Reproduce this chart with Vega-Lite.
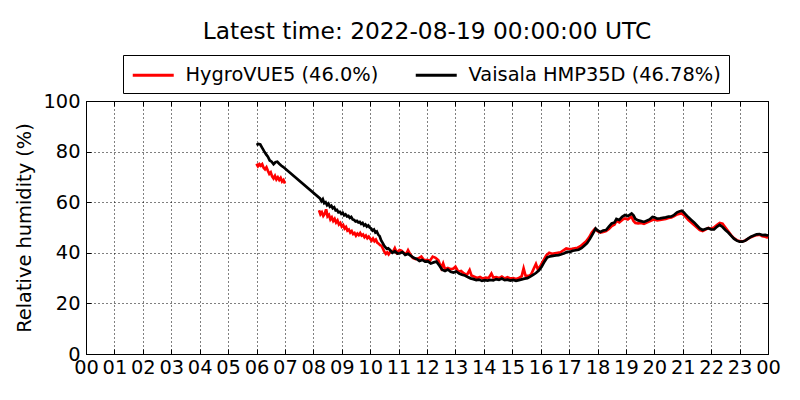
{
  "$schema": "https://vega.github.io/schema/vega-lite/v6.json",
  "width": 682,
  "height": 253,
  "autosize": {"type": "none"},
  "padding": {"left": 86, "top": 101, "right": 32, "bottom": 46},
  "background": "white",
  "title": {
    "text": "Latest time: 2022-08-19 00:00:00 UTC",
    "fontSize": 23.3,
    "font": "DejaVu Sans",
    "fontWeight": "normal",
    "color": "black",
    "anchor": "middle",
    "frame": "group",
    "offset": 10
  },
  "datasets": {
    "hygro": [
      {"m": 360, "v": 75.2, "g": 1}, {"m": 363, "v": 74.2, "g": 1}, {"m": 366, "v": 75.0, "g": 1}, {"m": 369, "v": 74.4, "g": 1},
      {"m": 372, "v": 75.0, "g": 1}, {"m": 375, "v": 73.6, "g": 1}, {"m": 378, "v": 73.0, "g": 1}, {"m": 381, "v": 73.8, "g": 1},
      {"m": 384, "v": 72.4, "g": 1}, {"m": 387, "v": 71.2, "g": 1}, {"m": 390, "v": 71.8, "g": 1}, {"m": 393, "v": 70.2, "g": 1},
      {"m": 396, "v": 69.4, "g": 1}, {"m": 399, "v": 70.4, "g": 1}, {"m": 402, "v": 69.0, "g": 1}, {"m": 405, "v": 69.8, "g": 1},
      {"m": 408, "v": 68.8, "g": 1}, {"m": 411, "v": 69.6, "g": 1}, {"m": 414, "v": 68.2, "g": 1}, {"m": 417, "v": 68.8, "g": 1},
      {"m": 420, "v": 67.4, "g": 1},
      {"m": 492, "v": 56.8, "g": 2}, {"m": 495, "v": 55.2, "g": 2}, {"m": 498, "v": 56.0, "g": 2}, {"m": 501, "v": 54.6, "g": 2},
      {"m": 504, "v": 55.4, "g": 2}, {"m": 507, "v": 57.2, "g": 2}, {"m": 510, "v": 54.4, "g": 2}, {"m": 513, "v": 55.0, "g": 2},
      {"m": 516, "v": 53.2, "g": 2}, {"m": 519, "v": 54.0, "g": 2}, {"m": 522, "v": 52.6, "g": 2}, {"m": 525, "v": 53.4, "g": 2},
      {"m": 528, "v": 52.0, "g": 2}, {"m": 531, "v": 52.8, "g": 2}, {"m": 534, "v": 51.2, "g": 2}, {"m": 537, "v": 51.8, "g": 2},
      {"m": 540, "v": 50.4, "g": 2}, {"m": 543, "v": 51.0, "g": 2}, {"m": 546, "v": 49.6, "g": 2}, {"m": 549, "v": 50.2, "g": 2},
      {"m": 552, "v": 48.8, "g": 2}, {"m": 555, "v": 49.2, "g": 2}, {"m": 558, "v": 48.0, "g": 2}, {"m": 561, "v": 48.6, "g": 2},
      {"m": 564, "v": 47.4, "g": 2}, {"m": 567, "v": 47.8, "g": 2}, {"m": 570, "v": 46.8, "g": 2}, {"m": 573, "v": 47.6, "g": 2},
      {"m": 576, "v": 47.0, "g": 2}, {"m": 579, "v": 47.8, "g": 2}, {"m": 582, "v": 46.8, "g": 2}, {"m": 585, "v": 47.2, "g": 2},
      {"m": 588, "v": 46.2, "g": 2}, {"m": 591, "v": 46.8, "g": 2}, {"m": 594, "v": 45.8, "g": 2}, {"m": 597, "v": 46.4, "g": 2},
      {"m": 600, "v": 45.6, "g": 2}, {"m": 603, "v": 44.8, "g": 2}, {"m": 606, "v": 45.6, "g": 2}, {"m": 609, "v": 44.6, "g": 2},
      {"m": 612, "v": 45.2, "g": 2}, {"m": 615, "v": 44.0, "g": 2}, {"m": 618, "v": 43.6, "g": 2}, {"m": 621, "v": 43.0, "g": 2},
      {"m": 624, "v": 42.8, "g": 2}, {"m": 627, "v": 41.6, "g": 2}, {"m": 630, "v": 40.4, "g": 2}, {"m": 633, "v": 39.6, "g": 2},
      {"m": 636, "v": 40.2, "g": 2}, {"m": 639, "v": 39.4, "g": 2},
      {"m": 642, "v": 40.2, "g": 2}, {"m": 648, "v": 40.4, "g": 2}, {"m": 652, "v": 41.8, "g": 2}, {"m": 656, "v": 40.0, "g": 2},
      {"m": 662, "v": 41.1, "g": 2}, {"m": 666, "v": 40.8, "g": 2}, {"m": 672, "v": 39.8, "g": 2}, {"m": 676, "v": 39.5, "g": 2},
      {"m": 680, "v": 41.0, "g": 2}, {"m": 684, "v": 39.6, "g": 2}, {"m": 690, "v": 38.0, "g": 2}, {"m": 696, "v": 37.5, "g": 2},
      {"m": 702, "v": 37.8, "g": 2}, {"m": 708, "v": 38.5, "g": 2}, {"m": 714, "v": 37.0, "g": 2}, {"m": 720, "v": 37.2, "g": 2},
      {"m": 726, "v": 36.8, "g": 2}, {"m": 732, "v": 38.5, "g": 2}, {"m": 738, "v": 38.0, "g": 2}, {"m": 744, "v": 37.0, "g": 2},
      {"m": 750, "v": 34.0, "g": 2}, {"m": 754, "v": 35.8, "g": 2}, {"m": 758, "v": 33.5, "g": 2}, {"m": 764, "v": 34.0, "g": 2},
      {"m": 770, "v": 33.5, "g": 2}, {"m": 776, "v": 33.8, "g": 2}, {"m": 780, "v": 34.5, "g": 2}, {"m": 786, "v": 32.5, "g": 2},
      {"m": 792, "v": 32.8, "g": 2}, {"m": 798, "v": 31.8, "g": 2}, {"m": 804, "v": 31.2, "g": 2}, {"m": 810, "v": 33.2, "g": 2},
      {"m": 814, "v": 31.0, "g": 2}, {"m": 820, "v": 30.5, "g": 2}, {"m": 826, "v": 30.0, "g": 2}, {"m": 832, "v": 30.4, "g": 2},
      {"m": 838, "v": 29.8, "g": 2}, {"m": 844, "v": 30.2, "g": 2}, {"m": 850, "v": 30.0, "g": 2}, {"m": 856, "v": 31.8, "g": 2},
      {"m": 860, "v": 30.2, "g": 2}, {"m": 866, "v": 30.4, "g": 2}, {"m": 872, "v": 30.0, "g": 2}, {"m": 878, "v": 30.6, "g": 2},
      {"m": 884, "v": 29.8, "g": 2}, {"m": 890, "v": 30.3, "g": 2}, {"m": 896, "v": 29.8, "g": 2}, {"m": 902, "v": 30.0, "g": 2},
      {"m": 908, "v": 29.6, "g": 2}, {"m": 914, "v": 30.0, "g": 2}, {"m": 920, "v": 30.8, "g": 2}, {"m": 924, "v": 33.8, "g": 2},
      {"m": 928, "v": 31.0, "g": 2}, {"m": 934, "v": 30.8, "g": 2}, {"m": 940, "v": 31.5, "g": 2}, {"m": 946, "v": 34.0, "g": 2},
      {"m": 950, "v": 35.6, "g": 2}, {"m": 954, "v": 33.5, "g": 2}, {"m": 960, "v": 35.0, "g": 2}, {"m": 966, "v": 37.0, "g": 2},
      {"m": 972, "v": 39.0, "g": 2}, {"m": 978, "v": 40.0, "g": 2}, {"m": 984, "v": 39.6, "g": 2}, {"m": 990, "v": 39.8, "g": 2},
      {"m": 996, "v": 40.0, "g": 2}, {"m": 1002, "v": 40.2, "g": 2}, {"m": 1008, "v": 41.0, "g": 2}, {"m": 1014, "v": 41.7, "g": 2},
      {"m": 1020, "v": 41.5, "g": 2}, {"m": 1026, "v": 41.6, "g": 2}, {"m": 1032, "v": 41.8, "g": 2}, {"m": 1038, "v": 42.0, "g": 2},
      {"m": 1044, "v": 42.6, "g": 2}, {"m": 1050, "v": 43.6, "g": 2}, {"m": 1056, "v": 44.5, "g": 2}, {"m": 1062, "v": 46.0, "g": 2},
      {"m": 1068, "v": 48.0, "g": 2}, {"m": 1074, "v": 49.4, "g": 2}, {"m": 1080, "v": 48.6, "g": 2}, {"m": 1086, "v": 48.0, "g": 2},
      {"m": 1092, "v": 48.2, "g": 2}, {"m": 1098, "v": 48.6, "g": 2}, {"m": 1104, "v": 49.4, "g": 2}, {"m": 1110, "v": 50.6, "g": 2},
      {"m": 1116, "v": 51.2, "g": 2}, {"m": 1120, "v": 52.6, "g": 2}, {"m": 1126, "v": 52.0, "g": 2}, {"m": 1132, "v": 53.0, "g": 2},
      {"m": 1138, "v": 53.6, "g": 2}, {"m": 1144, "v": 53.2, "g": 2}, {"m": 1148, "v": 53.8, "g": 2}, {"m": 1152, "v": 54.2, "g": 2},
      {"m": 1156, "v": 52.6, "g": 2}, {"m": 1160, "v": 51.8, "g": 2}, {"m": 1166, "v": 51.6, "g": 2}, {"m": 1172, "v": 51.8, "g": 2},
      {"m": 1178, "v": 51.5, "g": 2}, {"m": 1184, "v": 52.0, "g": 2}, {"m": 1190, "v": 52.5, "g": 2}, {"m": 1196, "v": 53.0, "g": 2},
      {"m": 1200, "v": 53.2, "g": 2}, {"m": 1206, "v": 52.8, "g": 2}, {"m": 1212, "v": 53.0, "g": 2}, {"m": 1218, "v": 53.2, "g": 2},
      {"m": 1224, "v": 53.4, "g": 2}, {"m": 1230, "v": 53.8, "g": 2}, {"m": 1236, "v": 54.0, "g": 2}, {"m": 1242, "v": 54.5, "g": 2},
      {"m": 1248, "v": 55.2, "g": 2}, {"m": 1254, "v": 55.5, "g": 2}, {"m": 1258, "v": 55.6, "g": 2}, {"m": 1262, "v": 55.0, "g": 2},
      {"m": 1266, "v": 54.2, "g": 2}, {"m": 1272, "v": 53.0, "g": 2}, {"m": 1278, "v": 52.0, "g": 2}, {"m": 1284, "v": 51.0, "g": 2},
      {"m": 1290, "v": 50.0, "g": 2}, {"m": 1296, "v": 49.0, "g": 2}, {"m": 1302, "v": 48.6, "g": 2}, {"m": 1308, "v": 49.2, "g": 2},
      {"m": 1314, "v": 49.8, "g": 2}, {"m": 1320, "v": 49.5, "g": 2}, {"m": 1326, "v": 50.0, "g": 2}, {"m": 1332, "v": 51.0, "g": 2},
      {"m": 1338, "v": 51.8, "g": 2}, {"m": 1344, "v": 51.5, "g": 2}, {"m": 1350, "v": 50.0, "g": 2}, {"m": 1356, "v": 48.5, "g": 2},
      {"m": 1362, "v": 47.0, "g": 2}, {"m": 1368, "v": 45.8, "g": 2}, {"m": 1374, "v": 45.0, "g": 2}, {"m": 1380, "v": 44.6, "g": 2},
      {"m": 1386, "v": 44.5, "g": 2}, {"m": 1392, "v": 44.9, "g": 2}, {"m": 1398, "v": 45.6, "g": 2}, {"m": 1404, "v": 46.2, "g": 2},
      {"m": 1410, "v": 46.6, "g": 2}, {"m": 1416, "v": 47.0, "g": 2}, {"m": 1422, "v": 47.2, "g": 2}, {"m": 1428, "v": 46.6, "g": 2},
      {"m": 1434, "v": 46.4, "g": 2}, {"m": 1440, "v": 46.0, "g": 2}
    ],
    "vaisala": [
      {"m": 360, "v": 82.6}, {"m": 364, "v": 83.0}, {"m": 368, "v": 82.8}, {"m": 372, "v": 81.5}, {"m": 376, "v": 80.2},
      {"m": 380, "v": 79.0}, {"m": 384, "v": 78.0}, {"m": 388, "v": 76.5}, {"m": 392, "v": 76.0}, {"m": 396, "v": 75.0},
      {"m": 400, "v": 75.8}, {"m": 404, "v": 76.0}, {"m": 408, "v": 75.2}, {"m": 412, "v": 74.5}, {"m": 416, "v": 74.0},
      {"m": 494, "v": 61.5}, {"m": 497, "v": 60.4}, {"m": 500, "v": 61.2}, {"m": 503, "v": 59.6}, {"m": 506, "v": 60.0},
      {"m": 509, "v": 58.8}, {"m": 512, "v": 59.4}, {"m": 515, "v": 58.2}, {"m": 518, "v": 58.6}, {"m": 521, "v": 57.6},
      {"m": 524, "v": 58.0}, {"m": 527, "v": 56.8}, {"m": 530, "v": 57.0}, {"m": 533, "v": 56.0}, {"m": 536, "v": 56.2},
      {"m": 539, "v": 55.4}, {"m": 542, "v": 55.8}, {"m": 545, "v": 54.8}, {"m": 548, "v": 55.2}, {"m": 551, "v": 54.4},
      {"m": 554, "v": 54.6}, {"m": 557, "v": 53.8}, {"m": 560, "v": 54.2}, {"m": 563, "v": 53.2}, {"m": 566, "v": 53.0},
      {"m": 569, "v": 52.4}, {"m": 572, "v": 52.6}, {"m": 575, "v": 52.0}, {"m": 578, "v": 52.2}, {"m": 581, "v": 51.4},
      {"m": 584, "v": 51.8}, {"m": 587, "v": 50.8}, {"m": 590, "v": 51.2}, {"m": 593, "v": 50.4}, {"m": 596, "v": 50.8},
      {"m": 599, "v": 50.0}, {"m": 602, "v": 49.6}, {"m": 605, "v": 48.8}, {"m": 608, "v": 49.2}, {"m": 611, "v": 48.0},
      {"m": 614, "v": 48.4}, {"m": 617, "v": 47.2}, {"m": 620, "v": 46.6}, {"m": 623, "v": 45.0}, {"m": 626, "v": 44.0},
      {"m": 629, "v": 43.0}, {"m": 632, "v": 42.2}, {"m": 635, "v": 41.6}, {"m": 638, "v": 41.8}, {"m": 642, "v": 41.1},
      {"m": 647, "v": 40.0}, {"m": 652, "v": 40.6}, {"m": 658, "v": 39.7}, {"m": 663, "v": 39.8}, {"m": 668, "v": 40.3},
      {"m": 674, "v": 39.2}, {"m": 680, "v": 39.6}, {"m": 686, "v": 38.8}, {"m": 692, "v": 38.0}, {"m": 698, "v": 37.6},
      {"m": 704, "v": 36.8}, {"m": 710, "v": 37.2}, {"m": 716, "v": 36.5}, {"m": 722, "v": 36.6}, {"m": 728, "v": 35.8},
      {"m": 734, "v": 36.2}, {"m": 740, "v": 36.5}, {"m": 746, "v": 35.0}, {"m": 752, "v": 33.3}, {"m": 758, "v": 32.8},
      {"m": 764, "v": 33.4}, {"m": 770, "v": 32.5}, {"m": 776, "v": 32.2}, {"m": 782, "v": 32.6}, {"m": 788, "v": 31.8},
      {"m": 794, "v": 31.3}, {"m": 800, "v": 31.0}, {"m": 806, "v": 30.4}, {"m": 812, "v": 29.9}, {"m": 818, "v": 29.6},
      {"m": 824, "v": 29.2}, {"m": 830, "v": 29.4}, {"m": 836, "v": 28.9}, {"m": 842, "v": 29.2}, {"m": 848, "v": 29.0},
      {"m": 854, "v": 29.3}, {"m": 860, "v": 29.1}, {"m": 866, "v": 29.6}, {"m": 872, "v": 29.3}, {"m": 878, "v": 29.8},
      {"m": 884, "v": 29.2}, {"m": 890, "v": 29.4}, {"m": 896, "v": 29.0}, {"m": 902, "v": 29.3}, {"m": 908, "v": 28.9},
      {"m": 914, "v": 29.2}, {"m": 920, "v": 29.5}, {"m": 926, "v": 29.8}, {"m": 932, "v": 30.0}, {"m": 938, "v": 30.6},
      {"m": 944, "v": 31.3}, {"m": 950, "v": 32.0}, {"m": 956, "v": 33.0}, {"m": 962, "v": 34.5}, {"m": 968, "v": 36.5},
      {"m": 974, "v": 38.2}, {"m": 980, "v": 38.6}, {"m": 986, "v": 38.8}, {"m": 992, "v": 39.0}, {"m": 998, "v": 39.1},
      {"m": 1004, "v": 39.4}, {"m": 1010, "v": 39.8}, {"m": 1016, "v": 40.4}, {"m": 1022, "v": 40.4}, {"m": 1028, "v": 40.8},
      {"m": 1034, "v": 41.0}, {"m": 1040, "v": 41.2}, {"m": 1046, "v": 41.8}, {"m": 1052, "v": 42.8}, {"m": 1058, "v": 43.8},
      {"m": 1064, "v": 45.5}, {"m": 1070, "v": 47.5}, {"m": 1076, "v": 49.6}, {"m": 1080, "v": 48.8}, {"m": 1086, "v": 48.2},
      {"m": 1092, "v": 48.8}, {"m": 1098, "v": 49.0}, {"m": 1104, "v": 50.3}, {"m": 1110, "v": 51.6}, {"m": 1116, "v": 52.0},
      {"m": 1120, "v": 53.4}, {"m": 1126, "v": 53.0}, {"m": 1132, "v": 54.2}, {"m": 1138, "v": 54.9}, {"m": 1144, "v": 54.5},
      {"m": 1148, "v": 55.0}, {"m": 1152, "v": 55.5}, {"m": 1156, "v": 54.8}, {"m": 1160, "v": 53.4}, {"m": 1166, "v": 52.8},
      {"m": 1172, "v": 52.5}, {"m": 1178, "v": 52.2}, {"m": 1184, "v": 52.7}, {"m": 1190, "v": 53.2}, {"m": 1196, "v": 54.2},
      {"m": 1200, "v": 54.0}, {"m": 1206, "v": 53.5}, {"m": 1212, "v": 53.6}, {"m": 1218, "v": 53.8}, {"m": 1224, "v": 54.0},
      {"m": 1230, "v": 54.3}, {"m": 1236, "v": 54.4}, {"m": 1242, "v": 55.0}, {"m": 1248, "v": 56.0}, {"m": 1254, "v": 56.4},
      {"m": 1258, "v": 56.6}, {"m": 1262, "v": 56.0}, {"m": 1266, "v": 55.2}, {"m": 1272, "v": 54.0}, {"m": 1278, "v": 53.0},
      {"m": 1284, "v": 52.0}, {"m": 1290, "v": 50.8}, {"m": 1296, "v": 49.6}, {"m": 1302, "v": 49.0}, {"m": 1308, "v": 49.4},
      {"m": 1314, "v": 49.7}, {"m": 1320, "v": 49.2}, {"m": 1326, "v": 49.2}, {"m": 1332, "v": 50.3}, {"m": 1338, "v": 51.0},
      {"m": 1344, "v": 50.2}, {"m": 1350, "v": 49.0}, {"m": 1356, "v": 48.0}, {"m": 1362, "v": 46.8}, {"m": 1368, "v": 45.6},
      {"m": 1374, "v": 44.8}, {"m": 1380, "v": 44.4}, {"m": 1386, "v": 44.4}, {"m": 1392, "v": 44.8}, {"m": 1398, "v": 45.6},
      {"m": 1404, "v": 46.4}, {"m": 1410, "v": 46.8}, {"m": 1416, "v": 47.3}, {"m": 1422, "v": 47.4}, {"m": 1428, "v": 47.0},
      {"m": 1434, "v": 47.1}, {"m": 1440, "v": 46.78}
    ]
  },
  "layer": [
    {
      "data": {"name": "hygro"},
      "mark": {"type": "line", "strokeWidth": 2.7},
      "encoding": {
        "x": {
          "field": "m",
          "type": "quantitative",
          "scale": {"domain": [0, 1440], "nice": false},
          "axis": {
            "orient": "bottom",
            "title": null,
            "values": [0, 60, 120, 180, 240, 300, 360, 420, 480, 540, 600, 660, 720, 780, 840, 900, 960, 1020, 1080, 1140, 1200, 1260, 1320, 1380, 1440],
            "labelExpr": "(floor(datum.value / 60) % 24 < 10 ? '0' : '') + (floor(datum.value / 60) % 24)",
            "labelOverlap": false,
            "labelFlush": false,
            "grid": true,
            "tickSize": -5,
            "labelPadding": 9
          }
        },
        "y": {
          "field": "v",
          "type": "quantitative",
          "scale": {"domain": [0, 100], "nice": false},
          "axis": {
            "orient": "left",
            "title": "Relative humidity (%)",
            "values": [0, 20, 40, 60, 80, 100],
            "grid": true,
            "tickSize": -5,
            "labelPadding": 11,
            "titlePadding": 8
          }
        },
        "detail": {"field": "g", "type": "nominal"},
        "color": {
          "datum": "HygroVUE5 (46.0%)",
          "scale": {
            "domain": ["HygroVUE5 (46.0%)", "Vaisala HMP35D (46.78%)"],
            "range": ["#ff0000", "#000000"]
          },
          "legend": {
            "title": null,
            "orient": "none",
            "legendX": 37,
            "legendY": -46,
            "direction": "horizontal"
          }
        }
      }
    },
    {
      "data": {"name": "vaisala"},
      "mark": {"type": "line", "strokeWidth": 2.7},
      "encoding": {
        "x": {
          "field": "m",
          "type": "quantitative",
          "axis": {
            "orient": "top",
            "title": null,
            "labels": false,
            "grid": false,
            "values": [0, 60, 120, 180, 240, 300, 360, 420, 480, 540, 600, 660, 720, 780, 840, 900, 960, 1020, 1080, 1140, 1200, 1260, 1320, 1380, 1440],
            "tickSize": -5
          }
        },
        "y": {
          "field": "v",
          "type": "quantitative",
          "axis": {
            "orient": "right",
            "title": null,
            "labels": false,
            "grid": false,
            "values": [0, 20, 40, 60, 80, 100],
            "tickSize": -5
          }
        },
        "color": {"datum": "Vaisala HMP35D (46.78%)"}
      }
    }
  ],
  "resolve": {"axis": {"x": "independent", "y": "independent"}},
  "config": {
    "font": "DejaVu Sans",
    "view": {"stroke": "black", "strokeWidth": 1},
    "axis": {
      "domain": false,
      "tickColor": "black",
      "tickWidth": 1,
      "labelColor": "black",
      "labelFont": "DejaVu Sans",
      "labelFontSize": 19.4,
      "titleFont": "DejaVu Sans",
      "titleFontSize": 19.4,
      "titleFontWeight": "normal",
      "titleColor": "black",
      "gridColor": "black",
      "gridOpacity": 1,
      "gridWidth": 1,
      "gridDash": [1, 3]
    },
    "legend": {
      "strokeColor": "black",
      "strokeWidth": 1,
      "fillColor": "white",
      "padding": 8,
      "cornerRadius": 0,
      "symbolType": "M-1,0H3",
      "symbolSize": 420,
      "symbolStrokeWidth": 3,
      "labelFont": "DejaVu Sans",
      "labelFontSize": 19.4,
      "labelColor": "black",
      "labelLimit": 400,
      "labelOffset": 30.5,
      "columnPadding": 30
    }
  }
}
